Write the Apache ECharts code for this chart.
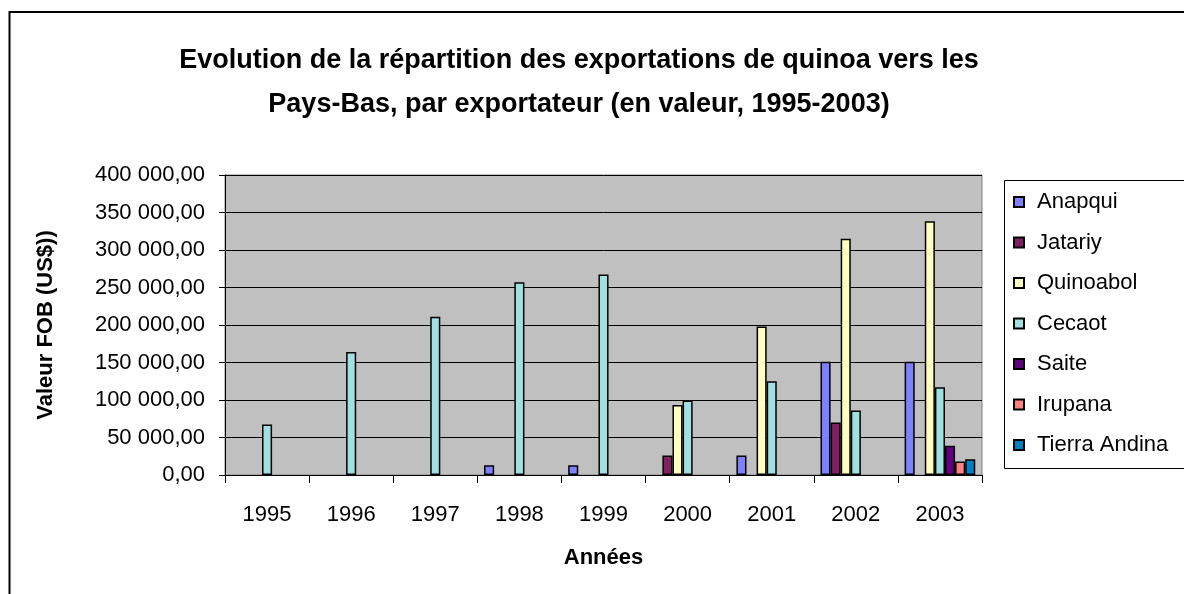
<!DOCTYPE html>
<html>
<head>
<meta charset="utf-8">
<script src="https://cdn.jsdelivr.net/npm/echarts@6/dist/echarts.min.js"></script>
<style>
  html, body { margin: 0; padding: 0; background: #fff; }
  #chart { width: 1184px; height: 594px; }
</style>
</head>
<body>
<div id="chart"></div>
<script>
  // years on the x axis
  var years = ['1995', '1996', '1997', '1998', '1999', '2000', '2001', '2002', '2003']

  // export values per exporter (US$ FOB), null = no bar
  var anapqui = [null, null, null, 13000, 13000, null, 26000, 151000, 151000]
  var jatariy = [null, null, null, null, null, 26000, null, 70000, null]
  var quinoabol = [null, null, null, null, null, 93500, 198000, 315000, 338500]
  var cecaot = [67500, 164000, 211000, 257000, 267500, 99500, 125000, 86000, 117000]
  var saite = [null, null, null, null, null, null, null, null, 39000]
  var irupana = [null, null, null, null, null, null, null, null, 18000]
  var tierraAndina = [null, null, null, null, null, null, null, null, 21000]

  var seriesNames = ['Anapqui', 'Jatariy', 'Quinoabol', 'Cecaot', 'Saite', 'Irupana', 'Tierra Andina']
  var seriesData = [anapqui, jatariy, quinoabol, cecaot, saite, irupana, tierraAndina]
  var seriesColors = ['#8080ff', '#802060', '#ffffc0', '#a0e0e0', '#600080', '#ff8080', '#0080c0']

  var font = 'Liberation Sans, Arial, sans-serif'

  function fmtValue (val) {
    var s = String(Math.round(val)).replace(/\B(?=(\d{3})+(?!\d))/g, ' ')
    return s + ',00'
  }

  var chart = echarts.init(document.getElementById('chart'))

  var option = {
    backgroundColor: '#fff',
    animation: false,
    title: {
      text: 'Evolution de la répartition des exportations de quinoa vers les\nPays-Bas, par exportateur (en valeur, 1995-2003)',
      left: 574,
      top: 34,
      textAlign: 'center',
      textStyle: {
        fontFamily: font,
        fontSize: 27,
        fontWeight: 'bold',
        color: '#000',
        lineHeight: 44
      }
    },
    graphic: [
      {
        type: 'rect',
        shape: { x: 9.5, y: 12, width: 1300, height: 700 },
        style: { fill: 'none', stroke: '#000', lineWidth: 2 },
        silent: true
      },
      {
        type: 'rect',
        shape: { x: 1004.5, y: 180.5, width: 300, height: 288 },
        style: { fill: '#fff', stroke: '#000', lineWidth: 1 },
        z: -1,
        silent: true
      }
    ],
    legend: {
      orient: 'vertical',
      left: 1008,
      top: 186,
      itemWidth: 10,
      itemHeight: 10,
      itemGap: 18.5,
      icon: 'rect',
      textStyle: {
        fontFamily: font,
        fontSize: 22,
        color: '#000',
        lineHeight: 22,
        padding: [0, 0, 0, 8]
      },
      data: seriesNames
    },
    grid: {
      left: 225,
      right: 202,
      top: 175,
      bottom: 119,
      show: true,
      backgroundColor: '#c0c0c0',
      borderColor: '#808080',
      borderWidth: 1
    },
    xAxis: {
      type: 'category',
      data: years,
      boundaryGap: true,
      name: 'Années',
      nameLocation: 'middle',
      nameGap: 72,
      nameTextStyle: {
        fontFamily: font,
        fontSize: 22,
        fontWeight: 'bold',
        color: '#000'
      },
      axisLine: { lineStyle: { color: '#000', width: 1 } },
      axisTick: { show: true, length: 8, alignWithLabel: false, lineStyle: { color: '#000' } },
      axisLabel: {
        fontFamily: font,
        fontSize: 22,
        color: '#000',
        margin: 29
      }
    },
    yAxis: {
      type: 'value',
      min: 0,
      max: 400000,
      interval: 50000,
      name: 'Valeur FOB (US$))',
      nameLocation: 'middle',
      nameGap: 168,
      nameTextStyle: {
        fontFamily: font,
        fontSize: 22,
        fontWeight: 'bold',
        color: '#000'
      },
      axisLine: { show: true, lineStyle: { color: '#000', width: 1 } },
      axisTick: { show: true, length: 6, lineStyle: { color: '#000' } },
      axisLabel: {
        fontFamily: font,
        fontSize: 22,
        color: '#000',
        margin: 20,
        formatter: fmtValue
      },
      splitLine: { show: true, lineStyle: { color: '#000', width: 1 } }
    },
    series: seriesNames.map(function (name, i) {
      return {
        name: name,
        type: 'bar',
        data: seriesData[i],
        barGap: '0%',
        barCategoryGap: '16%',
        itemStyle: {
          color: seriesColors[i],
          borderColor: '#000',
          borderWidth: 1.5
        }
      }
    })
  }

  chart.setOption(option)

  window.addEventListener('resize', function () {
    chart.resize()
  })
</script>
</body>
</html>
